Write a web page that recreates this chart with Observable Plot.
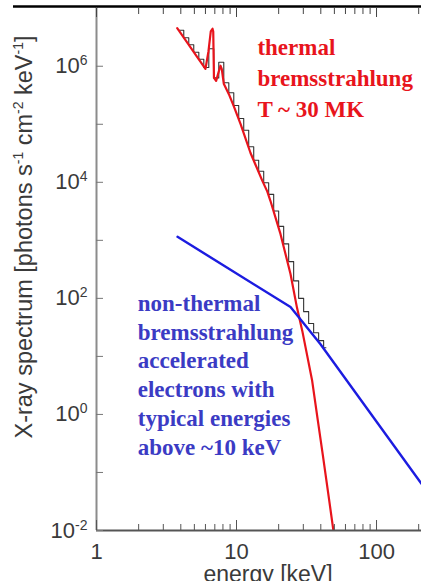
<!DOCTYPE html>
<html><head><meta charset="utf-8">
<script src="https://cdn.jsdelivr.net/npm/d3@7"></script>
<script src="https://cdn.jsdelivr.net/npm/@observablehq/plot@0.6"></script>
<style>
body{margin:0;background:#fff;}
svg{display:block;}
</style></head><body><div id="chart"></div>
<script>
// ---- data ----
const thermalEnergy = [3.77, 4.5, 5.2, 6.0, 6.3, 6.55, 6.74, 6.82, 6.9, 7.15, 7.45, 7.68, 7.85, 8.11, 8.82, 9.6, 10.68, 12.59, 15.27, 16.6, 17.46, 20.6, 24.3, 27.0, 29.5, 34.7, 38.1, 41.4, 46.0, 49.2, 50.5];
const thermalFlux = [4.52e6, 2.45e6, 1.48e6, 9.0e5, 1.78e6, 3.98e6, 4.42e6, 3.98e6, 6.3e5, 5.6e5, 7.9e5, 1.02e6, 8.9e5, 5.0e5, 3.3e5, 2.0e5, 1.02e5, 3.2e4, 1.07e4, 6.9e3, 4.8e3, 1.29e3, 263, 70, 27.5, 3.8, 0.78, 0.195, 0.032, 0.010, 0.005];

const nonthermalEnergy = [3.79, 24.3, 39.8, 209.5];
const nonthermalFlux = [1150, 71, 16.2, 0.064];

const binEdges = [3.87, 4.20, 4.56, 4.95, 5.38, 5.84, 6.34, 6.88, 7.47, 8.11, 8.81, 9.56, 10.37, 11.26, 12.22, 13.27, 14.40, 15.64, 16.97, 18.43, 20.00, 21.72, 23.58, 25.59, 27.78, 30.16, 32.75, 35.55, 38.59, 41.90, 43.5];
const observedFlux = [4.17e6, 3.09e6, 2.34e6, 1.74e6, 1.32e6, 9.5e5, 2.0e6, 6.3e5, 1.17e6, 5.2e5, 3.5e5, 2.1e5, 1.26e5, 7.9e4, 4.1e4, 2.4e4, 1.55e4, 9.8e3, 6.2e3, 3.2e3, 1.74e3, 870, 430, 200, 100, 59, 37, 25.5, 18.7, 14.1, 14.1];

const xMajorTicks = [1, 10, 100];
const xMinorTicks = [2, 3, 4, 5, 6, 7, 8, 9, 20, 30, 40, 50, 60, 70, 80, 90, 200];
const yLabeledTicks = [1e-2, 1e0, 1e2, 1e4, 1e6];
const yAllTicks = [1e-2, 1e-1, 1e0, 1e1, 1e2, 1e3, 1e4, 1e5, 1e6];

const thermalText = ["thermal", "bremsstrahlung", "T ~ 30 MK"];
const nonthermalText = ["non-thermal", "bremsstrahlung", "accelerated", "electrons with", "typical energies", "above ~10 keV"];
const xTitle = "energy [keV]";
const yTitleParts = [["X-ray spectrum [photons s", 0], ["-1", 1], [" cm", 0], ["-2", 1], [" keV", 0], ["-1", 1], ["]", 0]];

// ---- tables ----
const thermal = thermalEnergy.map((e, i) => ({e, f: thermalFlux[i]}));
const nonthermal = nonthermalEnergy.map((e, i) => ({e, f: nonthermalFlux[i]}));
const observed = binEdges.map((e, i) => ({e, f: observedFlux[i]}));

const sans = "'Liberation Sans', Arial, Helvetica, sans-serif";
const serif = "'Liberation Serif', 'Times New Roman', serif";

const chart = Plot.plot({
  width: 421, height: 581,
  marginLeft: 96, marginRight: 0, marginTop: 6, marginBottom: 51,
  x: {type: "log", domain: [1, 209.5], label: null},
  y: {type: "log", domain: [0.01, 1.07e7], label: null},
  style: {fontFamily: sans, background: "#fff", color: "#444", overflow: "hidden"},
  marks: [
    Plot.line(observed, {x: "e", y: "f", curve: "step-after", stroke: "#333", strokeWidth: 1.1, clip: true}),
    Plot.line(thermal, {x: "e", y: "f", stroke: "#e8141c", strokeWidth: 2.2, clip: true}),
    Plot.line(nonthermal, {x: "e", y: "f", stroke: "#1c1ce0", strokeWidth: 2.4, clip: true}),
    // frame lines
    Plot.ruleX([1], {stroke: "#8c8c8c", strokeWidth: 2}),
    Plot.ruleY([0.01], {stroke: "#555", strokeWidth: 2}),
    Plot.ruleY([1.07e7], {stroke: "#000", strokeWidth: 2.5, insetLeft: -83}),
    // bottom ticks (inward)
    Plot.axisX({ticks: xMinorTicks, tickSize: -6, text: null, stroke: "#555"}),
    Plot.axisX({ticks: xMajorTicks, tickSize: -10, text: null, stroke: "#555"}),
    Plot.axisX({ticks: xMajorTicks, tickSize: 0, tickPadding: 13, fontSize: 22, fill: "#3a3a3a", tickFormat: d => String(d)}),
    // top ticks (inward)
    Plot.axisX({anchor: "top", ticks: xMinorTicks, tickSize: -7, text: null, stroke: "#444"}),
    Plot.axisX({anchor: "top", ticks: xMajorTicks, tickSize: -10, text: null, stroke: "#444"}),
    // left ticks (inward)
    Plot.axisY({ticks: yAllTicks, tickSize: -7, text: null, stroke: "#777"}),
    Plot.axisY({ticks: yLabeledTicks, tickSize: 0, tickPadding: 9, fontSize: 22, fill: "#3a3a3a", tickFormat: d => String(Math.round(Math.log10(d)))}),
    // annotations
    Plot.text([thermalText.join("\n")], {x: 14.1, y: 3.7e6, text: d => d, textAnchor: "start", lineAnchor: "top", lineHeight: 1.35, fontSize: 23, fontWeight: "bold", fontFamily: serif, fill: "#e8141c"}),
    Plot.text([nonthermalText.join("\n")], {x: 1.97, y: 137, text: d => d, textAnchor: "start", lineAnchor: "top", lineHeight: 1.25, fontSize: 23, fontWeight: "bold", fontFamily: serif, fill: "#3b3bc4"})
  ]
});

document.getElementById("chart").appendChild(chart);

// y tick labels as 10 with superscript exponent
d3.select(chart).selectAll('g[aria-label="y-axis tick label"] text').each(function() {
  const exp = this.textContent;
  if (!exp) return;
  const t = d3.select(this);
  t.text("10");
  t.append("tspan").attr("dy", "-8").attr("font-size", 14).text(exp);
});

// axis titles
const svg = d3.select(chart);
const yt = svg.append("text")
  .attr("transform", "translate(32,237) rotate(-90)")
  .attr("text-anchor", "middle")
  .attr("font-family", sans).attr("font-size", 23.5).attr("fill", "#3a3a3a");
yTitleParts.forEach(([s, sup], i) => {
  const ts = yt.append("tspan").text(s);
  if (sup) ts.attr("font-size", 14).attr("dy", -9);
  else if (i > 0) ts.attr("dy", 9);
});
svg.append("text")
  .attr("x", 268).attr("y", 582)
  .attr("text-anchor", "middle")
  .attr("font-family", sans).attr("font-size", 23).attr("fill", "#3a3a3a")
  .text(xTitle);
</script>
</body></html>
